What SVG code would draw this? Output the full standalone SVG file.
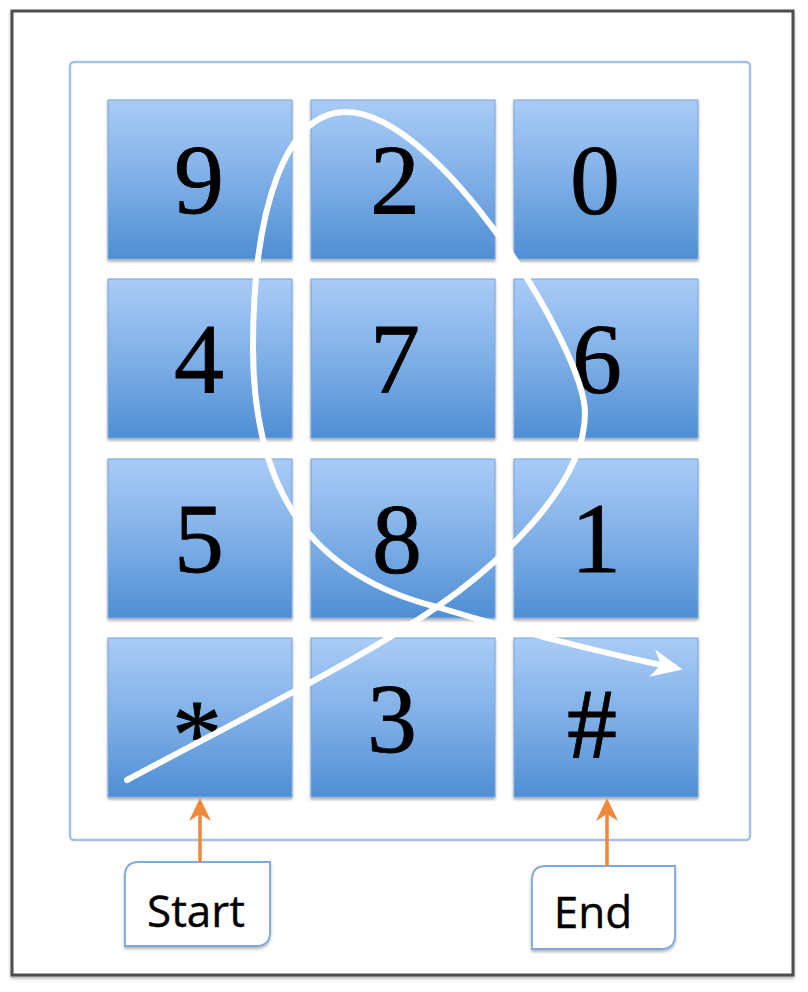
<svg xmlns="http://www.w3.org/2000/svg" width="808" height="992" viewBox="0 0 808 992">
<defs>
<linearGradient id="keyGrad" x1="0" y1="0" x2="0" y2="1">
<stop offset="0" stop-color="#a9cbf6"/>
<stop offset="0.5" stop-color="#7fafe7"/>
<stop offset="1" stop-color="#4f8ed4"/>
</linearGradient>
<filter id="shadow" x="-10%" y="-10%" width="120%" height="125%">
<feDropShadow dx="0" dy="2" stdDeviation="1.5" flood-color="#000" flood-opacity="0.35"/>
</filter>
<filter id="softShadow" x="-5%" y="-5%" width="110%" height="110%">
<feDropShadow dx="0" dy="2" stdDeviation="1.5" flood-color="#000" flood-opacity="0.3"/>
</filter>
<marker id="whiteHead" markerUnits="userSpaceOnUse" viewBox="-32 -16 34 32" markerWidth="34" markerHeight="32" refX="-22" refY="0" orient="auto">
<path d="M0,0 L-31,-14 L-22,0 L-31,14 Z" fill="#ffffff"/>
</marker>
<marker id="orangeHead" markerUnits="userSpaceOnUse" viewBox="-24 -12 26 24" markerWidth="26" markerHeight="24" refX="-16" refY="0" orient="auto">
<path d="M0,0 L-23,-11 L-16,0 L-23,11 Z" fill="#f0883c"/>
</marker>
</defs>
<style>
.key rect { fill: url(#keyGrad); stroke: #78a6dc; stroke-width: 1; filter: url(#shadow); }
.key text { font-family: "Liberation Serif", "Times New Roman", serif; font-size: 100px; fill: #000; stroke: #000; stroke-width: 0.8; text-anchor: middle; }
.label path { fill: #ffffff; stroke: #7fa8da; stroke-width: 1.8; filter: url(#softShadow); }
.label text { font-family: "Open Sans", "Liberation Sans", sans-serif; font-size: 44px; fill: #000; stroke: #000; stroke-width: 0.4; text-anchor: middle; }
.trace { fill: none; stroke: #ffffff; stroke-width: 6; stroke-linecap: round; stroke-linejoin: round; }
.pointer { fill: none; stroke: #f0883c; stroke-width: 3.5; }
</style>
<rect x="0" y="0" width="808" height="992" fill="#ffffff"/>
<g id="frame">
<rect x="12" y="11" width="781" height="964" fill="#ffffff" stroke="#4d4d4d" stroke-width="3" filter="url(#softShadow)"/>
</g>
<g id="panel">
<rect x="70" y="62" width="680" height="778" rx="4" fill="#ffffff" stroke="#a4c1e5" stroke-width="2.5"/>
</g>
<g id="key-9" class="key"><rect x="108" y="100" width="184" height="159"/><text x="199" y="213">9</text></g>
<g id="key-2" class="key"><rect x="311" y="100" width="184" height="159"/><text x="395" y="213">2</text></g>
<g id="key-0" class="key"><rect x="514" y="100" width="184" height="159"/><text x="595" y="213">0</text></g>
<g id="key-4" class="key"><rect x="108" y="279" width="184" height="159"/><text x="199" y="392">4</text></g>
<g id="key-7" class="key"><rect x="311" y="279" width="184" height="159"/><text x="395" y="392">7</text></g>
<g id="key-6" class="key"><rect x="514" y="279" width="184" height="159"/><text x="597" y="392">6</text></g>
<g id="key-5" class="key"><rect x="108" y="459" width="184" height="159"/><text x="199" y="572">5</text></g>
<g id="key-8" class="key"><rect x="311" y="459" width="184" height="159"/><text x="397" y="572">8</text></g>
<g id="key-1" class="key"><rect x="514" y="459" width="184" height="159"/><text x="596" y="572">1</text></g>
<g id="key-star" class="key"><rect x="108" y="638" width="184" height="159"/><text x="197" y="768">*</text></g>
<g id="key-3" class="key"><rect x="311" y="638" width="184" height="159"/><text x="392" y="752">3</text></g>
<g id="key-hash" class="key"><rect x="514" y="638" width="184" height="159"/><text x="592" y="757">#</text></g>
<g id="label-start" class="label">
<path d="M139,862 H270 V932 Q270,946 256,946 H125 V876 Q125,862 139,862 Z"/>
<text x="196" y="927">Start</text>
</g>
<g id="label-end" class="label">
<path d="M546,866 H675 V935 Q675,949 661,949 H532 V880 Q532,866 546,866 Z"/>
<text x="593" y="928">End</text>
</g>
<g id="connectors">
<path class="trace" marker-end="url(#whiteHead)" d="M127,780 C230,725 360,660 437,607 C490,570 585,490 585,413 C585,350 440,112 346,112 C285,112 253,210 253,347 C253,490 310,575 437,607 C520,632 590,650 661,665"/>
<path class="pointer" marker-end="url(#orangeHead)" d="M200,862 V814"/>
<path class="pointer" marker-end="url(#orangeHead)" d="M607,866 V814"/>
</g>
</svg>
